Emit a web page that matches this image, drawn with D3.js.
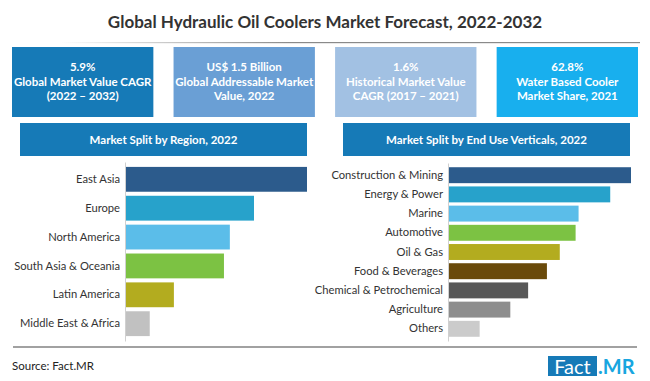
<!DOCTYPE html>
<html><head><meta charset="utf-8">
<script src="https://cdn.jsdelivr.net/npm/d3@7"></script>
<style>
html,body{margin:0;padding:0;background:#fff;}
svg{display:block;font-family:Lato,"Open Sans",sans-serif;}
</style></head>
<body>
<svg id="c" width="650" height="381"></svg>
<script>
const title = "Global Hydraulic Oil Coolers Market Forecast, 2022-2032";
const kpiLines = [
  ["5.9%", "Global Market Value CAGR", "(2022 \u2013 2032)"],
  ["US$ 1.5 Billion", "Global Addressable Market", "Value, 2022"],
  ["1.6%", "Historical Market Value", "CAGR (2017 \u2013 2021)"],
  ["62.8%", "Water Based Cooler", "Market Share, 2021"]
];
const kpiColors = ["#167ab7", "#6a9fd5", "#a2c1e3", "#18afee"];

const regionTitle = "Market Split by Region, 2022";
const regions = ["East Asia", "Europe", "North America", "South Asia & Oceania", "Latin America", "Middle East & Africa"];
const regionShare = [30.9, 21.9, 17.8, 16.8, 8.3, 4.2];
const regionColors = ["#2c5b8c", "#27a2cb", "#5bbde9", "#7cc243", "#b3ac1f", "#c1c1c1"];

const verticalTitle = "Market Split by End Use Verticals, 2022";
const verticals = ["Construction & Mining", "Energy & Power", "Marine", "Automotive", "Oil & Gas", "Food & Beverages", "Chemical & Petrochemical", "Agriculture", "Others"];
const verticalShare = [18.5, 16.4, 13.2, 12.9, 11.3, 10.0, 8.1, 6.3, 3.2];
const verticalColors = ["#2c5b8c", "#27a2cb", "#5bbde9", "#7cc243", "#b3ac1f", "#6a4a0b", "#585858", "#8e8e8e", "#cbcbcb"];

const sourceText = "Source: Fact.MR";

const svg = d3.select("#c");

// Title
svg.append("text").attr("x", 325).attr("y", 28).attr("text-anchor", "middle")
  .attr("font-size", 17).attr("font-weight", 700).attr("fill", "#333").text(title);

const defs = svg.append("defs");
const g = defs.append("linearGradient").attr("id", "tl").attr("x1", "0%").attr("x2", "100%");
g.append("stop").attr("offset", "0%").attr("stop-color", "#fff");
g.append("stop").attr("offset", "40%").attr("stop-color", "#8a8a8a");
g.append("stop").attr("offset", "100%").attr("stop-color", "#8a8a8a");
svg.append("rect").attr("x", 60).attr("y", 42).attr("width", 580).attr("height", 1.2).attr("fill", "url(#tl)");

// KPI boxes
const kx = d3.scaleBand().domain(d3.range(4)).range([12, 638]).paddingInner(0.125).paddingOuter(0);
kpiLines.forEach((lines, i) => {
  svg.append("rect").attr("x", kx(i)).attr("y", 47).attr("width", kx.bandwidth()).attr("height", 70).attr("fill", kpiColors[i]);
  const t = svg.append("text").attr("text-anchor", "middle").attr("font-size", 11.5).attr("font-weight", 700).attr("fill", "#fff");
  lines.forEach((l, j) => {
    t.append("tspan").attr("x", kx(i) + kx.bandwidth() / 2).attr("y", 71 + j * 14.5).text(l);
  });
});

// Section headers
function header(x0, x1, txt) {
  svg.append("rect").attr("x", x0).attr("y", 123).attr("width", x1 - x0).attr("height", 33).attr("fill", "#167ab7");
  svg.append("text").attr("x", (x0 + x1) / 2).attr("y", 143.5).attr("text-anchor", "middle")
    .attr("font-size", 11.5).attr("font-weight", 700).attr("fill", "#fff").text(txt);
}
header(20, 307, regionTitle);
header(343, 630, verticalTitle);

function barChart(cats, vals, cols, x0, x1, y0, y1, pin, pout) {
  const x = d3.scaleLinear().domain([0, d3.max(vals)]).range([x0, x1]);
  const y = d3.scaleBand().domain(cats).range([y0, y1]).paddingInner(pin).paddingOuter(pout);
  const gg = svg.append("g");
  gg.selectAll("rect").data(cats).join("rect")
    .attr("x", x(0)).attr("y", d => y(d))
    .attr("width", (d, i) => x(vals[i]) - x(0)).attr("height", y.bandwidth())
    .attr("fill", (d, i) => cols[i]);
  const ax = svg.append("g").attr("transform", `translate(${x0},0)`)
    .call(d3.axisLeft(y).tickSize(0).tickSizeOuter(0).tickPadding(5));
  ax.select(".domain").attr("stroke", "#d0d0d0").attr("stroke-width", 1);
  ax.selectAll("text").attr("font-family", "Lato, 'Open Sans', sans-serif").attr("font-size", 11.2).attr("fill", "#333");
}
barChart(regions, regionShare, regionColors, 125, 307, 162, 341, 0.14, 0.17);
barChart(verticals, verticalShare, verticalColors, 448, 631, 163, 341, 0.17, 0.22);

// Footer
svg.append("line").attr("x1", 13).attr("x2", 637).attr("y1", 347).attr("y2", 347).attr("stroke", "#444").attr("stroke-width", 1.2);
svg.append("text").attr("x", 12).attr("y", 370).attr("font-size", 11.5).attr("fill", "#222").text(sourceText);
svg.append("rect").attr("x", 548).attr("y", 356).attr("width", 49).attr("height", 20).attr("fill", "#167ab7");
svg.append("text").attr("x", 572.5).attr("y", 374).attr("text-anchor", "middle").attr("font-size", 20).attr("fill", "#fff").text("Fact");
svg.append("text").attr("x", 598).attr("y", 374).attr("font-size", 20).attr("font-weight", 700).attr("fill", "#18a6e0").text(".MR");
</script>
</body></html>
